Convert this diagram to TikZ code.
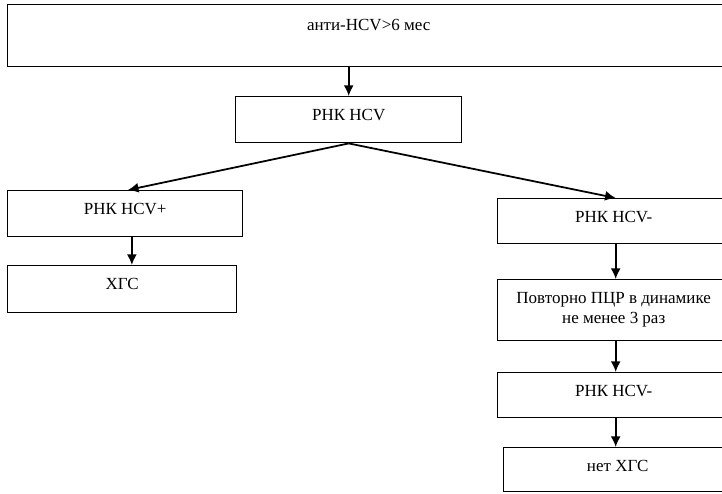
\documentclass[tikz,border=0pt]{standalone}
\usepackage{fontspec}
\setmainfont{Liberation Serif}
\usepackage{tikz}
\usetikzlibrary{calc, arrows.meta}
\tikzstyle{box} = [draw, line width=1.2pt, inner sep=0pt, text height=0.7cm, anchor=north west, align=center]
\tikzstyle{link} = [line width=1.5pt, -{Latex[length=0.32cm, width=0.3cm]}]

\begin{document}
\begin{tikzpicture}[x=0.03cm, y=-0.03cm, every node/.style={font=\fontsize{14.5pt}{17pt}\selectfont}]
        \useasboundingbox (0,0) rectangle (722,493);
        \node (anti) [box, minimum width=21.66cm, text height=0.78cm, text depth=1.08cm] at (7,4) {анти-HCV>6 мес};
        \node (rnk) [box, minimum width=6.78cm, text depth=0.68cm] at (235,96) {РНК HCV};
        \node (pos) [box, minimum width=7.05cm, text depth=0.68cm] at (7,190) {РНК HCV+};
        \node (xgs) [box, minimum width=6.87cm, text depth=0.71cm] at (7,265) {ХГС};
        \node (neg) [box, minimum width=6.96cm, text depth=0.65cm] at (497,198) {РНК HCV-};
        \node (repeat) [box, minimum width=6.96cm, text height=1.3cm, text depth=0.53cm] at (497,279) {Повторно ПЦР в динамике\\не менее 3 раз};
        \node (neg2) [box, minimum width=6.96cm, text depth=0.65cm] at (497,372) {РНК HCV-};
        \node (none) [box, minimum width=6.84cm, text depth=0.62cm] at (503,447) {нет ХГС};
        \draw [link] (rnk.north |- anti.south) -- (rnk.north);
        \draw [link] (rnk.south) -- ([xshift=0.08cm]pos.north);
        \draw [link] (rnk.south) -- ([xshift=0.06cm]neg.north);
        \draw [link] ([xshift=0.2cm]pos.south) -- ([xshift=0.2cm]pos.south |- xgs.north);
        \draw [link] ([xshift=0.06cm]neg.south) -- ([xshift=0.06cm]neg.south |- repeat.north);
        \draw [link] ([xshift=0.06cm]repeat.south) -- ([xshift=0.06cm]repeat.south |- neg2.north);
        \draw [link] ([xshift=0.06cm]neg2.south) -- ([xshift=0.06cm]neg2.south |- none.north);
    \end{tikzpicture}
\end{document}
